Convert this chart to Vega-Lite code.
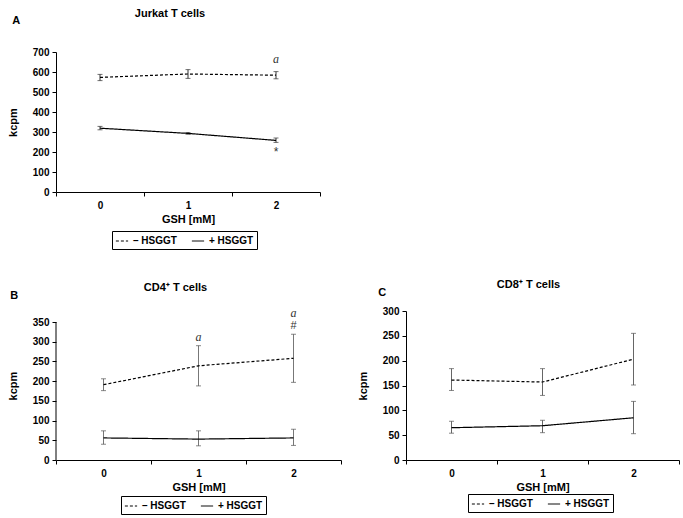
{
  "$schema": "https://vega.github.io/schema/vega-lite/v6.json",
  "padding": {"left": 7, "top": 8, "right": 0, "bottom": 0},
  "background": "white",
  "config": {
    "font": "Liberation Sans",
    "view": {"stroke": null},
    "axis": {"labelFont": "Liberation Sans", "labelFontWeight": "bold", "labelFontSize": 10, "labelColor": "black", "titleFont": "Liberation Sans", "titleFontWeight": "bold", "titleFontSize": 11, "titleColor": "black", "domainColor": "black", "tickColor": "black", "tickSize": 4, "grid": false, "labelOverlap": false},
    "axisX": {"labelAngle": 0, "tickBand": "extent", "labelPadding": 4, "titlePadding": 3},
    "axisY": {"titlePadding": 14, "labelPadding": 3},
    "legend": {"orient": "none", "direction": "horizontal", "strokeColor": "black", "padding": 3, "cornerRadius": 0, "labelFont": "Liberation Sans", "labelFontWeight": "bold", "labelFontSize": 10, "labelColor": "black", "symbolType": "stroke", "symbolStrokeColor": "black", "symbolStrokeWidth": 1, "symbolSize": 150, "columnPadding": 12},
    "title": {"font": "Liberation Sans", "fontSize": 11, "fontWeight": "bold", "color": "black"}
  },
  "spacing": 29,
  "resolve": {"scale": {"x": "independent", "y": "independent", "strokeDash": "independent"}, "legend": {"strokeDash": "independent"}},
  "vconcat": [
    {
      "title": {"text": "A", "anchor": "start", "frame": "bounds", "dy": 22, "dx": 5},
      "resolve": {"scale": {"x": "independent", "y": "independent", "strokeDash": "independent"}, "legend": {"strokeDash": "independent"}},
      "vconcat": [
        {
          "title": {"text": "Jurkat T cells", "offset": 28, "dx": -18},
          "width": 264,
          "height": 140,
          "layer": [
            {
              "data": {"values": [
                {"gsh": "0", "grp": "– HSGGT", "mean": 573, "lo": 557, "hi": 588},
                {"gsh": "1", "grp": "– HSGGT", "mean": 590, "lo": 568, "hi": 612},
                {"gsh": "2", "grp": "– HSGGT", "mean": 584, "lo": 566, "hi": 602},
                {"gsh": "0", "grp": "+ HSGGT", "mean": 319, "lo": 311, "hi": 328},
                {"gsh": "1", "grp": "+ HSGGT", "mean": 293, "lo": 289, "hi": 297},
                {"gsh": "2", "grp": "+ HSGGT", "mean": 258, "lo": 248, "hi": 270}
              ]},
              "layer": [
                {"mark": {"type": "rule", "color": "#333", "strokeWidth": 1},
                 "encoding": {"x": {"field": "gsh", "type": "ordinal", "bandPosition": 0.5, "scale": {"type": "band", "domain": ["0", "1", "2"], "paddingInner": 0, "paddingOuter": 0}, "axis": {"title": "GSH [mM]"}},
                   "y": {"field": "lo", "type": "quantitative", "scale": {"domain": [0, 700], "nice": false}, "axis": {"title": "kcpm", "values": [0, 100, 200, 300, 400, 500, 600, 700]}},
                   "y2": {"field": "hi"}}},
                {"mark": {"type": "tick", "orient": "horizontal", "size": 5, "thickness": 1, "color": "#333"},
                 "encoding": {"x": {"field": "gsh", "type": "ordinal", "bandPosition": 0.5}, "y": {"field": "lo", "type": "quantitative", "axis": {"title": "kcpm", "values": [0, 100, 200, 300, 400, 500, 600, 700]}}}},
                {"mark": {"type": "tick", "orient": "horizontal", "size": 5, "thickness": 1, "color": "#333"},
                 "encoding": {"x": {"field": "gsh", "type": "ordinal", "bandPosition": 0.5}, "y": {"field": "hi", "type": "quantitative", "axis": {"title": "kcpm", "values": [0, 100, 200, 300, 400, 500, 600, 700]}}}},
                {"mark": {"type": "line", "color": "black", "strokeWidth": 1.2},
                 "encoding": {"x": {"field": "gsh", "type": "ordinal", "bandPosition": 0.5}, "y": {"field": "mean", "type": "quantitative", "axis": {"title": "kcpm", "values": [0, 100, 200, 300, 400, 500, 600, 700]}},
                   "strokeDash": {"field": "grp", "type": "nominal", "scale": {"domain": ["– HSGGT", "+ HSGGT"], "range": [[3, 2], [1, 0]]}, "legend": {"title": null, "legendX": 56, "legendY": 179}}}}
              ]
            },
            {
              "data": {"values": [{"gsh": "2", "v": 665, "lab": "a"}]},
              "mark": {"type": "text", "font": "Liberation Serif", "fontStyle": "italic", "fontSize": 12, "color": "#333"},
              "encoding": {"x": {"field": "gsh", "type": "ordinal", "bandPosition": 0.5}, "y": {"field": "v", "type": "quantitative", "axis": {"title": "kcpm", "values": [0, 100, 200, 300, 400, 500, 600, 700]}}, "text": {"field": "lab"}}
            },
            {
              "data": {"values": [{"gsh": "2", "v": 202, "lab": "*"}]},
              "mark": {"type": "text", "fontSize": 12, "color": "#333"},
              "encoding": {"x": {"field": "gsh", "type": "ordinal", "bandPosition": 0.5}, "y": {"field": "v", "type": "quantitative", "axis": {"title": "kcpm", "values": [0, 100, 200, 300, 400, 500, 600, 700]}}, "text": {"field": "lab"}}
            }
          ]
        }
      ]
    },
    {
      "resolve": {"scale": {"x": "independent", "y": "independent", "strokeDash": "independent"}, "legend": {"strokeDash": "independent"}},
      "spacing": 15,
      "align": "none",
      "hconcat": [
        {
          "title": {"text": "B", "anchor": "start", "frame": "bounds", "dy": 23, "dx": 3},
          "resolve": {"scale": {"x": "independent", "y": "independent", "strokeDash": "independent"}, "legend": {"strokeDash": "independent"}},
          "vconcat": [
            {
              "title": {"text": "CD4⁺ T cells", "offset": 14, "dx": -23},
              "width": 285,
              "height": 149,
              "layer": [
                {
                  "data": {"values": [
                    {"gsh": "0", "grp": "– HSGGT", "mean": 191, "lo": 176, "hi": 206},
                    {"gsh": "1", "grp": "– HSGGT", "mean": 239, "lo": 188, "hi": 290},
                    {"gsh": "2", "grp": "– HSGGT", "mean": 258, "lo": 197, "hi": 319},
                    {"gsh": "0", "grp": "+ HSGGT", "mean": 56, "lo": 40, "hi": 74},
                    {"gsh": "1", "grp": "+ HSGGT", "mean": 53, "lo": 36, "hi": 74},
                    {"gsh": "2", "grp": "+ HSGGT", "mean": 56, "lo": 37, "hi": 78}
                  ]},
                  "layer": [
                    {"mark": {"type": "rule", "color": "#777", "strokeWidth": 1},
                     "encoding": {"x": {"field": "gsh", "type": "ordinal", "bandPosition": 0.5, "scale": {"type": "band", "domain": ["0", "1", "2"], "paddingInner": 0, "paddingOuter": 0}, "axis": {"title": "GSH [mM]"}},
                       "y": {"field": "lo", "type": "quantitative", "scale": {"domain": [0, 378], "nice": false}, "axis": {"title": "kcpm", "values": [0, 50, 100, 150, 200, 250, 300, 350], "domain": false}},
                       "y2": {"field": "hi"}}},
                    {"mark": {"type": "tick", "orient": "horizontal", "size": 5, "thickness": 1, "color": "#555"},
                     "encoding": {"x": {"field": "gsh", "type": "ordinal", "bandPosition": 0.5}, "y": {"field": "lo", "type": "quantitative", "axis": {"title": "kcpm", "values": [0, 50, 100, 150, 200, 250, 300, 350], "domain": false}}}},
                    {"mark": {"type": "tick", "orient": "horizontal", "size": 5, "thickness": 1, "color": "#555"},
                     "encoding": {"x": {"field": "gsh", "type": "ordinal", "bandPosition": 0.5}, "y": {"field": "hi", "type": "quantitative", "axis": {"title": "kcpm", "values": [0, 50, 100, 150, 200, 250, 300, 350], "domain": false}}}},
                    {"mark": {"type": "line", "color": "black", "strokeWidth": 1.2},
                     "encoding": {"x": {"field": "gsh", "type": "ordinal", "bandPosition": 0.5}, "y": {"field": "mean", "type": "quantitative", "axis": {"title": "kcpm", "values": [0, 50, 100, 150, 200, 250, 300, 350], "domain": false}},
                       "strokeDash": {"field": "grp", "type": "nominal", "scale": {"domain": ["– HSGGT", "+ HSGGT"], "range": [[3, 2], [1, 0]]}, "legend": {"title": null, "legendX": 65, "legendY": 185}}}}
                  ]
                },
                {
                  "data": {"values": [{"gsh": "0", "y0": 0, "y1": 350}]},
                  "mark": {"type": "rule", "color": "black", "strokeWidth": 1},
                  "encoding": {"x": {"field": "gsh", "type": "ordinal", "bandPosition": 0}, "y": {"field": "y0", "type": "quantitative", "axis": {"title": "kcpm", "values": [0, 50, 100, 150, 200, 250, 300, 350], "domain": false}}, "y2": {"field": "y1"}}
                },
                {
                  "data": {"values": [{"gsh": "1", "v": 313, "lab": "a"}, {"gsh": "2", "v": 374, "lab": "a"}]},
                  "mark": {"type": "text", "font": "Liberation Serif", "fontStyle": "italic", "fontSize": 12, "color": "#333"},
                  "encoding": {"x": {"field": "gsh", "type": "ordinal", "bandPosition": 0.5}, "y": {"field": "v", "type": "quantitative", "axis": {"title": "kcpm", "values": [0, 50, 100, 150, 200, 250, 300, 350], "domain": false}}, "text": {"field": "lab"}}
                },
                {
                  "data": {"values": [{"gsh": "2", "v": 341, "lab": "#"}]},
                  "mark": {"type": "text", "fontSize": 11, "color": "#333"},
                  "encoding": {"x": {"field": "gsh", "type": "ordinal", "bandPosition": 0.5}, "y": {"field": "v", "type": "quantitative", "axis": {"title": "kcpm", "values": [0, 50, 100, 150, 200, 250, 300, 350], "domain": false}}, "text": {"field": "lab"}}
                }
              ]
            }
          ]
        },
        {
          "title": {"text": "C", "anchor": "start", "frame": "bounds", "dy": 23, "dx": 21},
          "resolve": {"scale": {"x": "independent", "y": "independent", "strokeDash": "independent"}, "legend": {"strokeDash": "independent"}},
          "vconcat": [
            {
              "title": {"text": "CD8⁺ T cells", "offset": 16, "dx": -14},
              "width": 273,
              "height": 149,
              "data": {"values": [
                {"gsh": "0", "grp": "– HSGGT", "mean": 161, "lo": 140, "hi": 184},
                {"gsh": "1", "grp": "– HSGGT", "mean": 157, "lo": 130, "hi": 184},
                {"gsh": "2", "grp": "– HSGGT", "mean": 203, "lo": 151, "hi": 255},
                {"gsh": "0", "grp": "+ HSGGT", "mean": 65, "lo": 54, "hi": 78},
                {"gsh": "1", "grp": "+ HSGGT", "mean": 69, "lo": 55, "hi": 80},
                {"gsh": "2", "grp": "+ HSGGT", "mean": 85, "lo": 53, "hi": 118}
              ]},
              "layer": [
                {"mark": {"type": "rule", "color": "#666", "strokeWidth": 1},
                 "encoding": {"x": {"field": "gsh", "type": "ordinal", "bandPosition": 0.5, "scale": {"type": "band", "domain": ["0", "1", "2"], "paddingInner": 0, "paddingOuter": 0}, "axis": {"title": "GSH [mM]"}},
                   "y": {"field": "lo", "type": "quantitative", "scale": {"domain": [0, 300], "nice": false}, "axis": {"title": "kcpm", "values": [0, 50, 100, 150, 200, 250, 300]}},
                   "y2": {"field": "hi"}}},
                {"mark": {"type": "tick", "orient": "horizontal", "size": 5, "thickness": 1, "color": "#555"},
                 "encoding": {"x": {"field": "gsh", "type": "ordinal", "bandPosition": 0.5}, "y": {"field": "lo", "type": "quantitative", "axis": {"title": "kcpm", "values": [0, 50, 100, 150, 200, 250, 300]}}}},
                {"mark": {"type": "tick", "orient": "horizontal", "size": 5, "thickness": 1, "color": "#555"},
                 "encoding": {"x": {"field": "gsh", "type": "ordinal", "bandPosition": 0.5}, "y": {"field": "hi", "type": "quantitative", "axis": {"title": "kcpm", "values": [0, 50, 100, 150, 200, 250, 300]}}}},
                {"mark": {"type": "line", "color": "black", "strokeWidth": 1.2},
                 "encoding": {"x": {"field": "gsh", "type": "ordinal", "bandPosition": 0.5}, "y": {"field": "mean", "type": "quantitative", "axis": {"title": "kcpm", "values": [0, 50, 100, 150, 200, 250, 300]}},
                   "strokeDash": {"field": "grp", "type": "nominal", "scale": {"domain": ["– HSGGT", "+ HSGGT"], "range": [[3, 2], [1, 0]]}, "legend": {"title": null, "legendX": 62, "legendY": 183}}}}
              ]
            }
          ]
        }
      ]
    }
  ]
}
